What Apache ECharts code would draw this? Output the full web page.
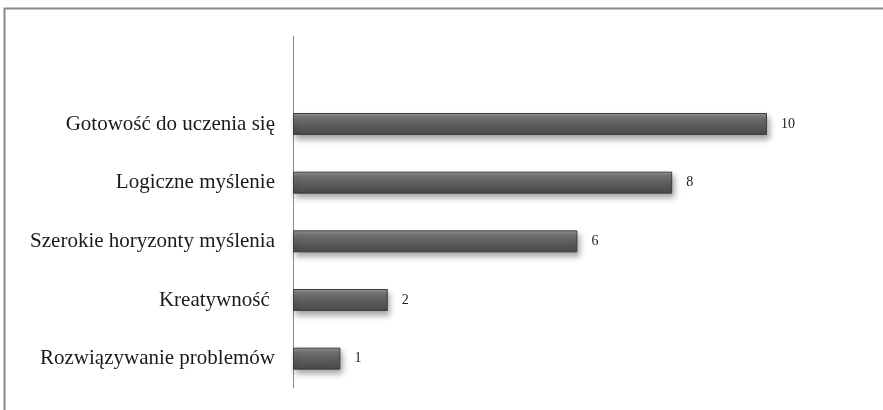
<!DOCTYPE html>
<html>
<head>
<meta charset="utf-8">
<script src="https://cdn.jsdelivr.net/npm/echarts@6/dist/echarts.min.js"></script>
<style>html,body{margin:0;padding:0;background:#fff;}#c{width:883px;height:410px;}</style>
</head>
<body>
<div id="c"></div>
<script>
var categories = ['', 'Gotowość do uczenia się', 'Logiczne myślenie', 'Szerokie horyzonty myślenia', 'Kreatywność ', 'Rozwiązywanie problemów'];
var values = [null, 10, 8, 6, 2, 1];

var chart = echarts.init(document.getElementById('c'));
chart.setOption({
  backgroundColor: '#ffffff',
  animation: false,
  graphic: [{
    type: 'rect',
    shape: {x: 4.5, y: 8.5, width: 1000, height: 1000},
    style: {fill: 'none', stroke: '#8a8a8a', lineWidth: 2},
    z: 10
  }],
  grid: {left: 293, right: 116, top: 36, bottom: 22},
  xAxis: {type: 'value', min: 0, max: 10, show: false},
  yAxis: {
    type: 'category', inverse: true, data: categories,
    axisLine: {lineStyle: {color: '#8a8a8a', width: 1}},
    axisTick: {show: false},
    axisLabel: {fontFamily: 'Liberation Serif', fontSize: 21, color: '#1a1a1a', margin: 18}
  },
  series: [{
    type: 'bar', data: values, barWidth: 22,
    itemStyle: {
      color: new echarts.graphic.LinearGradient(0, 0, 0, 1, [
        {offset: 0, color: '#9a9a9a'},
        {offset: 0.2, color: '#747474'},
        {offset: 0.6, color: '#5a5a5a'},
        {offset: 1, color: '#4a4a4a'}
      ]),
      borderColor: '#3e3e3e', borderWidth: 1,
      shadowColor: 'rgba(0,0,0,0.35)', shadowBlur: 6, shadowOffsetX: 2, shadowOffsetY: 4
    },
    label: {show: true, position: 'right', distance: 14, fontFamily: 'Liberation Serif', fontSize: 14, color: '#1a1a1a'}
  }]
});
</script>
</body>
</html>
